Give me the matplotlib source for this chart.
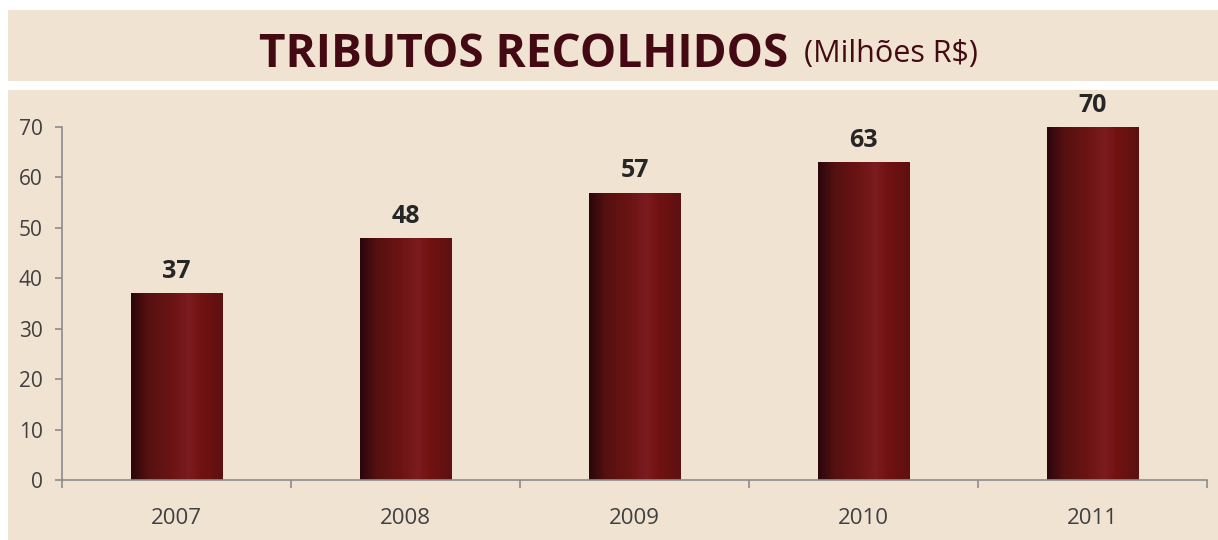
import numpy as np
import matplotlib
matplotlib.use("Agg")
import matplotlib.pyplot as plt
from matplotlib.patches import Rectangle
from matplotlib.colors import LinearSegmentedColormap

years = ["2007", "2008", "2009", "2010", "2011"]
values = [37, 48, 57, 63, 70]
y_ticks = [0, 10, 20, 30, 40, 50, 60, 70]

W, H = 1218, 540
fig = plt.figure(figsize=(W / 100, H / 100), dpi=100)
fig.patch.set_facecolor("white")

beige = "#f0e3d2"
# title band and chart panel
fig.patches.append(Rectangle((8 / W, 1 - 81 / H), 1 - 8 / W, 71 / H,
                             transform=fig.transFigure, facecolor=beige,
                             edgecolor="none", zorder=-5))
fig.patches.append(Rectangle((8 / W, 0), 1 - 8 / W, 1 - 90 / H,
                             transform=fig.transFigure, facecolor=beige,
                             edgecolor="none", zorder=-5))

fig.text(788 / W, 1 - 67 / H, "TRIBUTOS RECOLHIDOS", ha="right", va="baseline",
         fontsize=33, fontweight="bold", color="#430a13", family="Open Sans")
fig.text(804 / W, 1 - 62 / H, "(Milhões R$)", ha="left", va="baseline",
         fontsize=22, color="#430a13", family="Open Sans")

ax = fig.add_axes([62 / W, 1 - 480 / H, (1207 - 62) / W, (480 - 127) / H])
ax.set_facecolor("none")

bar_w = 0.40
bars = ax.bar(range(len(years)), values, width=bar_w, color="none",
              edgecolor="none", zorder=2)

cmap = LinearSegmentedColormap.from_list("barshade", [
    (0.00, "#2a060c"),
    (0.18, "#561010"),
    (0.45, "#6c1414"),
    (0.63, "#7c1c20"),
    (0.75, "#731212"),
    (1.00, "#5e1010"),
])
grad = np.linspace(0, 1, 256).reshape(1, -1)
for b in bars:
    x0, y0 = b.get_x(), b.get_y()
    w, h = b.get_width(), b.get_height()
    im = ax.imshow(grad, cmap=cmap, aspect="auto", extent=(x0, x0 + w, y0, y0 + h),
                   zorder=2, interpolation="bicubic")
    im.set_clip_path(b)
    ax.text(x0 + w / 2, h + 3.0, f"{h:g}", ha="center", va="baseline",
            fontsize=18, fontweight="bold", color="#262626", family="Open Sans",
            clip_on=False)

ax.set_xlim(-0.5, len(years) - 0.5)
ax.set_ylim(0, 70)

for s in ["top", "right"]:
    ax.spines[s].set_visible(False)
for s in ["left", "bottom"]:
    ax.spines[s].set_color("#8c8c8c")
    ax.spines[s].set_linewidth(1.2)

ax.set_yticks(y_ticks)
ax.set_yticklabels([str(t) for t in y_ticks], fontsize=15, color="#404040",
                   family="Open Sans")
ax.tick_params(axis="y", length=5, color="#8c8c8c", width=1.2, pad=9)

ax.set_xticks(range(len(years)))
ax.set_xticklabels(years, fontsize=16, color="#404040", family="Open Sans")
ax.tick_params(axis="x", which="major", length=0, pad=20)
ax.set_xticks(np.arange(-0.5, len(years), 1.0), minor=True)
ax.tick_params(axis="x", which="minor", length=6, color="#8c8c8c", width=1.2)

fig.savefig("out.png", dpi=100, facecolor=fig.get_facecolor())
